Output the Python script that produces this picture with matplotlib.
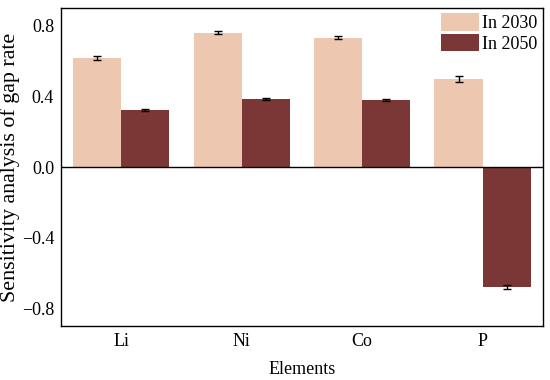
import numpy as np
import matplotlib.pyplot as plt

plt.rcParams['font.family'] = ['Liberation Serif', 'DejaVu Serif']

elements = ['Li', 'Ni', 'Co', 'P']
gap_2030 = [0.618, 0.759, 0.731, 0.498]
err_2030 = [0.013, 0.008, 0.009, 0.015]
gap_2050 = [0.322, 0.386, 0.379, -0.680]
err_2050 = [0.004, 0.004, 0.004, 0.012]

c2030 = '#EEC7B0'
c2050 = '#7A3736'

fig, ax = plt.subplots(figsize=(5.5, 3.8), dpi=100)
fig.subplots_adjust(left=0.111, right=0.987, top=0.979, bottom=0.142)

x = np.arange(len(elements))
w = 0.4
ekw = dict(ecolor='black', elinewidth=1.0, capsize=3, capthick=1.0)
ax.bar(x - w / 2, gap_2030, w, yerr=err_2030, color=c2030, label='In 2030', error_kw=ekw)
ax.bar(x + w / 2, gap_2050, w, yerr=err_2050, color=c2050, label='In 2050', error_kw=ekw)

ax.axhline(0, color='black', lw=1.0)
ax.set_xlim(-0.5, 3.5)
ax.set_ylim(-0.9, 0.9)
ax.set_yticks([-0.8, -0.4, 0.0, 0.4, 0.8])
ax.set_yticklabels(['\u22120.8', '\u22120.4', '0.0', '0.4', '0.8'])
ax.set_xticks(x)
ax.set_xticklabels(elements)
ax.tick_params(length=0, labelsize=13, pad=5)

ax.set_xlabel('Elements', fontsize=13, labelpad=8)
ax.set_ylabel('Sensitivity analysis of gap rate', fontsize=15.8, labelpad=1)

for s in ax.spines.values():
    s.set_linewidth(1.0)
    s.set_color('black')

ax.legend(loc='upper right', frameon=False, fontsize=13, handlelength=2.1,
          handleheight=1.1, labelspacing=0.1, handletextpad=0.2,
          borderaxespad=0.2, borderpad=0.1)

fig.savefig('out.png', dpi=100)
